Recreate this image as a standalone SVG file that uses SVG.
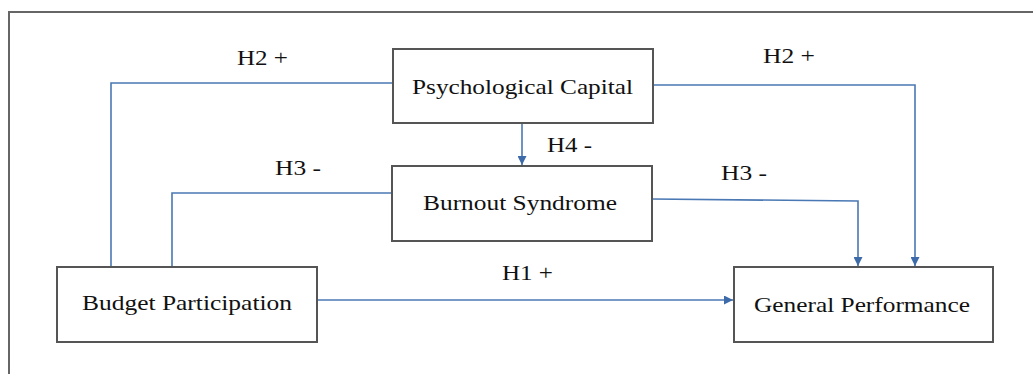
<svg xmlns="http://www.w3.org/2000/svg" width="1033" height="374" viewBox="0 0 1033 374">
<style>
.box{fill:#fff;stroke:#555;stroke-width:2}
.lbl{font-family:"Liberation Serif","Times New Roman",serif;font-size:22px;fill:#111}
.hl{font-family:"Liberation Serif","Times New Roman",serif;font-size:22px;fill:#111}
.c{fill:none;stroke:#4a78b4;stroke-width:1.6}
</style>
<defs>
<marker id="ah" viewBox="0 0 10 10" refX="10" refY="5" markerWidth="9" markerHeight="9" markerUnits="userSpaceOnUse" orient="auto">
<path d="M0,0 L10,5 L0,10 z" fill="#3d6aa8"/>
</marker>
</defs>
<rect width="1033" height="374" fill="#fff"/>
<path d="M9,380 V12 H1040" fill="none" stroke="#666" stroke-width="2"/>
<g id="connectors">
<path class="c" d="M393,83 H111 V267"/>
<path class="c" d="M392,193 H172 V267"/>
<path class="c" d="M653,85 H915 V266" marker-end="url(#ah)"/>
<path class="c" d="M652,199 L858,201 V266" marker-end="url(#ah)"/>
<path class="c" d="M522,123 V165" marker-end="url(#ah)"/>
<path class="c" d="M317,300 H733" marker-end="url(#ah)"/>
<text class="hl" x="237" y="65" textLength="51" lengthAdjust="spacingAndGlyphs">H2 +</text>
<text class="hl" x="763" y="63" textLength="52" lengthAdjust="spacingAndGlyphs">H2 +</text>
<text class="hl" x="275" y="175" textLength="46" lengthAdjust="spacingAndGlyphs">H3 -</text>
<text class="hl" x="721" y="180" textLength="46" lengthAdjust="spacingAndGlyphs">H3 -</text>
<text class="hl" x="547" y="152" textLength="45" lengthAdjust="spacingAndGlyphs">H4 -</text>
<text class="hl" x="502" y="280" textLength="51" lengthAdjust="spacingAndGlyphs">H1 +</text>
</g>
<g id="psychological-capital">
<rect class="box" x="393" y="49" width="260" height="74"/>
<text class="lbl" x="412" y="94" textLength="221" lengthAdjust="spacingAndGlyphs">Psychological Capital</text>
</g>
<g id="burnout-syndrome">
<rect class="box" x="392" y="166" width="260" height="75"/>
<text class="lbl" x="423" y="210" textLength="194" lengthAdjust="spacingAndGlyphs">Burnout Syndrome</text>
</g>
<g id="budget-participation">
<rect class="box" x="57" y="267" width="260" height="75"/>
<text class="lbl" x="82" y="310" textLength="210" lengthAdjust="spacingAndGlyphs">Budget Participation</text>
</g>
<g id="general-performance">
<rect class="box" x="734" y="267" width="259" height="75"/>
<text class="lbl" x="754" y="312" textLength="216" lengthAdjust="spacingAndGlyphs">General Performance</text>
</g>
</svg>
